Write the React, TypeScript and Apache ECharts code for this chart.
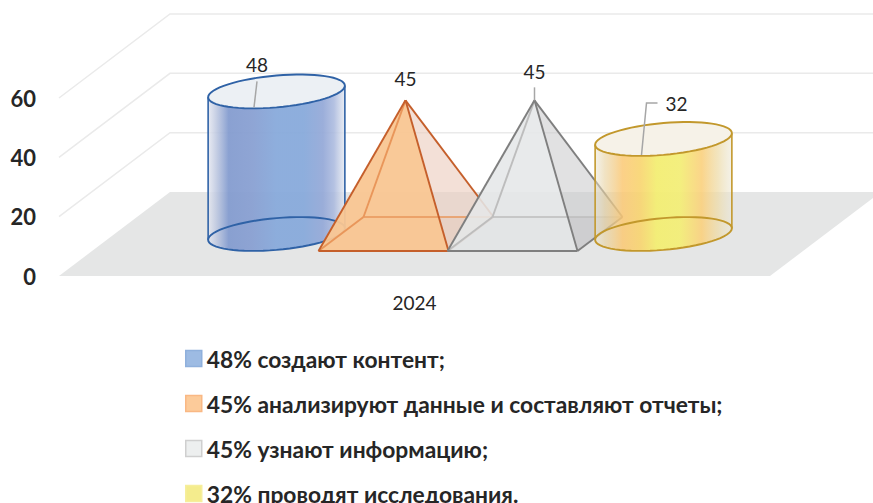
import React, { useEffect, useRef } from "react";
import * as echarts from "echarts";

const categories = ["2024"];
const seriesNames = [
  "48% создают контент;",
  "45% анализируют данные и составляют отчеты;",
  "45% узнают информацию;",
  "32% проводят исследования.",
];
const seriesValues = [48, 45, 45, 32];
const yTicks = [0, 20, 40, 60];

const FONT = 'Lato, "Noto Sans", sans-serif';
const TEXT = "#262626";
const DEPTH = { dx: 111, dy: -84 };

const LEADER = "#A6A6A6";

type Stop = [number, string];
const grad = (stops: Stop[]) =>
  new echarts.graphic.LinearGradient(
    0, 0, 1, 0,
    stops.map(([offset, color]) => ({ offset, color }))
  );

const blueStops: Stop[] = [
  [0, "rgba(226,229,239,0.8)"],
  [0.06, "rgba(190,200,224,0.88)"],
  [0.15, "rgba(132,156,207,0.95)"],
  [0.32, "rgba(137,160,210,0.95)"],
  [0.5, "rgba(136,170,219,0.95)"],
  [0.7, "rgba(136,170,219,0.95)"],
  [0.84, "rgba(150,170,216,0.95)"],
  [0.92, "rgba(170,185,222,0.88)"],
  [1, "rgba(228,232,240,0.8)"],
];
const yellowStops: Stop[] = [
  [0, "rgba(232,228,210,0.5)"],
  [0.07, "rgba(232,210,160,0.62)"],
  [0.2, "rgba(251,200,115,0.85)"],
  [0.33, "rgba(248,212,110,0.9)"],
  [0.45, "rgba(243,238,115,0.95)"],
  [0.62, "rgba(243,238,120,0.95)"],
  [0.78, "rgba(250,208,125,0.9)"],
  [0.9, "rgba(238,220,170,0.75)"],
  [1, "rgba(234,230,214,0.55)"],
];

function ellipsePoints(cx: number, cy: number, a: number, s: number, h: number, from = 0, to = Math.PI * 2) {
  const pts: number[][] = [];
  const n = 64;
  for (let i = 0; i <= n; i++) {
    const t = from + ((to - from) * i) / n;
    pts.push([cx + a * Math.cos(t), cy - s * Math.cos(t) + h * Math.sin(t)]);
  }
  return pts;
}

function valueLabel(text: string, x: number, y: number) {
  return {
    type: "text",
    silent: true,
    style: { text, x, y, fill: TEXT, font: `19px ${FONT}`, textAlign: "center", textVerticalAlign: "middle" },
  };
}

function leader(points: number[][]) {
  return {
    type: "polyline",
    silent: true,
    shape: { points },
    style: { stroke: LEADER, lineWidth: 1.5, fill: "none" },
  };
}

function cylinderRenderer(stops: Stop[], stroke: string, topFill: string, labelFor: (cx: number, ty: number, v: number) => any[]) {
  return (_params: any, api: any) => {
    const i = api.value(0);
    const v = api.value(1);
    const [cx, by] = api.coord([i, 0]);
    const [, ty] = api.coord([i, v]);
    const a = api.size([1, 0])[0] * 0.53;
    const s = 5.8;
    const h = 15.9;
    const topFront = ellipsePoints(cx, ty, a, s, h, 0, Math.PI);
    const botFront = ellipsePoints(cx, by, a, s, h, Math.PI, 0);
    return {
      type: "group",
      children: [
        {
          type: "polygon",
          silent: true,
          shape: { points: [...topFront, ...botFront] },
          style: { fill: grad(stops), stroke: "none" },
        },
        {
          type: "polygon",
          silent: true,
          shape: { points: ellipsePoints(cx, by, a, s, h) },
          style: { fill: "none", stroke, lineWidth: 1.9 },
        },
        { type: "line", silent: true, shape: { x1: cx - a, y1: ty + s, x2: cx - a, y2: by + s }, style: { stroke, lineWidth: 1.6 } },
        { type: "line", silent: true, shape: { x1: cx + a, y1: ty - s, x2: cx + a, y2: by - s }, style: { stroke, lineWidth: 1.6 } },
        {
          type: "polygon",
          silent: true,
          shape: { points: ellipsePoints(cx, ty, a, s, h) },
          style: { fill: topFill, stroke, lineWidth: 1.9 },
        },
        ...labelFor(cx, ty, v),
      ],
    };
  };
}

type PyrStyle = {
  edge: string; light: string; front: string; side: string; base: string;
};

function pyramidRenderer(c: PyrStyle, labelFor: (cx: number, ty: number, v: number) => any[]) {
  return (_params: any, api: any) => {
    const i = api.value(0);
    const v = api.value(1);
    const [cx, by] = api.coord([i, 0]);
    const [, ty] = api.coord([i, v]);
    const w = api.size([1, 0])[0] / 2 + 0.5;
    const apex = [cx, ty];
    const FL = [cx - w - 22, by + 17];
    const FR = [cx + w - 22, by + 17];
    const BL = [cx - w + 23, by - 17];
    const BR = [cx + w + 23, by - 17];
    const poly = (points: number[][], fill: string) => ({
      type: "polygon", silent: true, shape: { points }, style: { fill, stroke: "none" },
    });
    const seg = (p: number[], q: number[], stroke: string, lineWidth = 1.9) => ({
      type: "line", silent: true,
      shape: { x1: p[0], y1: p[1], x2: q[0], y2: q[1] },
      style: { stroke, lineWidth },
    });
    return {
      type: "group",
      children: [
        poly([FL, FR, BR, BL], c.base),
        poly([FR, BR, apex], c.side),
        poly([FL, FR, apex], c.front),
        seg(BL, BR, c.light, 1.7),
        seg(BL, apex, c.light),
        seg(FL, BL, c.light),
        seg(FL, FR, c.edge, 2.2),
        seg(FL, apex, c.edge),
        seg(FR, apex, c.edge),
        seg(FR, BR, c.edge),
        seg(BR, apex, c.edge),
        ...labelFor(cx, ty, v),
      ],
    };
  };
}

const renderFloor = (params: any, api: any) => {
  const sys = params.coordSys;
  const y0 = api.coord([0, 0])[1];
  const l = sys.x;
  const r = sys.x + sys.width;
  return {
    type: "polygon",
    silent: true,
    shape: { points: [[l, y0], [r, y0], [r + DEPTH.dx, y0 + DEPTH.dy], [l + DEPTH.dx, y0 + DEPTH.dy]] },
    style: { fill: "#E5E6E6", stroke: "none" },
  };
};

const renderWallLine = (params: any, api: any) => {
  const sys = params.coordSys;
  const y = api.coord([0, api.value(1)])[1];
  const l = sys.x;
  const r = sys.x + sys.width;
  const bx = l + DEPTH.dx;
  const by = y + DEPTH.dy;
  return {
    type: "polyline",
    silent: true,
    shape: { points: [[l, y], [bx, by], [r + DEPTH.dx, by]] },
    style: { stroke: "#EAEAEA", lineWidth: 1.5, fill: "none" },
  };
};

const legendStyle = [
  { color: "#9DBBE3", borderColor: "#8FB0DC" },
  { color: "#FCCB9A", borderColor: "#F9B884" },
  { color: "#EDEFEF", borderColor: "#CFCFCF" },
  { color: "#F4EC8D", borderColor: "#F6EE9C" },
];

export default function App() {
  const ref = useRef<HTMLDivElement>(null);
  useEffect(() => {
    document.body.style.margin = "0";
    document.body.style.overflow = "hidden";
    const chart = echarts.init(ref.current!, null, { renderer: "svg" });

    const makeSeries = (i: number, renderItem: any) => ({
      type: "custom",
      name: seriesNames[i],
      xAxisIndex: 1,
      yAxisIndex: 1,
      z: 5 + i,
      encode: { x: 0, y: 1 },
      itemStyle: { color: legendStyle[i].color },
      data: [[i, seriesValues[i]]],
      renderItem,
    });

    chart.setOption({
      animation: false,
      backgroundColor: "#FFFFFF",
      grid: [
        { left: 59, width: 711, top: 98, height: 178 },
        { left: 212, width: 516, top: 55.8, height: 178.2 },
      ],
      xAxis: [
        {
          type: "category",
          gridIndex: 0,
          data: categories,
          axisLine: { show: false },
          axisTick: { show: false },
          axisLabel: { color: TEXT, fontFamily: FONT, fontSize: 19, margin: 17 },
        },
        {
          type: "category",
          gridIndex: 1,
          data: seriesNames,
          show: false,
        },
      ],
      yAxis: [
        {
          type: "value",
          gridIndex: 0,
          min: 0,
          max: 60,
          interval: 20,
          axisLine: { show: false },
          axisTick: { show: false },
          splitLine: { show: false },
          axisLabel: { color: TEXT, fontFamily: FONT, fontSize: 22, fontWeight: "bold", margin: 23 },
        },
        { type: "value", gridIndex: 1, min: 0, max: 60, interval: 20, show: false },
      ],
      legend: {
        orient: "vertical",
        left: 185,
        top: 347,
        padding: 0,
        itemWidth: 16,
        itemHeight: 16,
        itemGap: 22,
        selectedMode: false,
        textStyle: { color: TEXT, fontFamily: FONT, fontSize: 22.8, fontWeight: "bold" },
        data: seriesNames.map((name, i) => ({
          name,
          icon: "rect",
          itemStyle: { color: legendStyle[i].color, borderColor: legendStyle[i].borderColor, borderWidth: 1.5 },
        })),
      },
      series: [
        {
          type: "custom",
          name: "floor",
          xAxisIndex: 0,
          yAxisIndex: 0,
          z: 1,
          data: [[0, 0]],
          renderItem: renderFloor,
        },
        {
          type: "custom",
          name: "walls",
          xAxisIndex: 0,
          yAxisIndex: 0,
          z: 2,
          data: yTicks.slice(1).map((t) => [0, t]),
          renderItem: renderWallLine,
        },
        makeSeries(
          0,
          cylinderRenderer(blueStops, "#2F62A6", "rgba(235,239,244,0.97)", (cx, ty, v) => [
            leader([[cx - 19.5, ty - 10], [cx - 22.5, ty + 16]]),
            valueLabel(String(v), cx - 19.5, ty - 27),
          ])
        ),
        makeSeries(
          1,
          pyramidRenderer(
            {
              edge: "#C55F2B",
              light: "#E9965A",
              front: "rgba(249,198,146,0.95)",
              side: "rgba(236,205,190,0.62)",
              base: "rgba(215,185,165,0.35)",
            },
            (cx, ty, v) => [valueLabel(String(v), cx, ty - 22)]
          )
        ),
        makeSeries(
          2,
          pyramidRenderer(
            {
              edge: "#7F7F7F",
              light: "#BDBDBD",
              front: "rgba(229,231,232,0.88)",
              side: "rgba(200,201,203,0.55)",
              base: "rgba(190,191,193,0.4)",
            },
            (cx, ty, v) => [
              leader([[cx, ty - 13], [cx, ty]]),
              valueLabel(String(v), cx, ty - 29),
            ]
          )
        ),
        makeSeries(
          3,
          cylinderRenderer(yellowStops, "#C2982C", "rgba(246,242,231,0.97)", (cx, ty, v) => [
            leader([[cx - 22, ty + 16], [cx - 17, ty - 36], [cx - 6, ty - 36]]),
            valueLabel(String(v), cx + 13, ty - 35),
          ])
        ),
      ],
    });
    return () => chart.dispose();
  }, []);
  return (
    <div style={{ position: "absolute", left: 0, top: 0, width: 873, height: 503, overflow: "hidden" }}>
      <div ref={ref} style={{ width: 873, height: 560 }} />
    </div>
  );
}
